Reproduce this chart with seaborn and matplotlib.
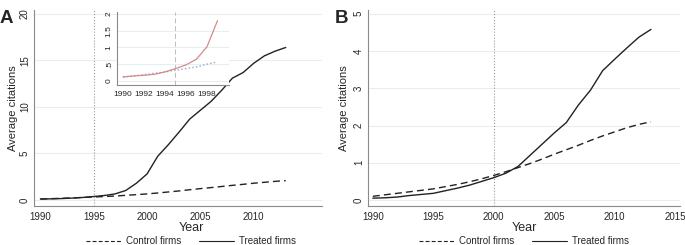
import numpy as np
import pandas as pd
import matplotlib
matplotlib.use('Agg')
import matplotlib.pyplot as plt
import seaborn as sns

years = list(range(1990, 2014))

treatedA = [0.10, 0.12, 0.15, 0.20, 0.27, 0.37, 0.48, 0.65, 1.02, 1.80, 2.80, 4.70,
            5.95, 7.30, 8.70, 9.65, 10.60, 11.80, 13.10, 13.70, 14.70, 15.50, 16.00, 16.40]
controlA = [0.10, 0.14, 0.18, 0.22, 0.27, 0.32, 0.37, 0.42, 0.50, 0.57, 0.65, 0.75,
            0.86, 0.97, 1.10, 1.22, 1.33, 1.45, 1.57, 1.68, 1.80, 1.90, 2.00, 2.08]

treatedB = [0.05, 0.06, 0.08, 0.12, 0.15, 0.18, 0.25, 0.32, 0.40, 0.50, 0.60, 0.72,
            0.90, 1.20, 1.50, 1.80, 2.08, 2.55, 2.95, 3.47, 3.78, 4.08, 4.37, 4.58]
controlB = [0.10, 0.14, 0.18, 0.22, 0.26, 0.30, 0.36, 0.42, 0.49, 0.57, 0.66, 0.76,
            0.87, 0.98, 1.10, 1.23, 1.35, 1.47, 1.60, 1.72, 1.83, 1.94, 2.03, 2.10]

insetYears = list(range(1990, 2000))
insetTreated = [0.12, 0.15, 0.17, 0.20, 0.27, 0.37, 0.48, 0.65, 1.02, 1.80]
insetControl = [0.12, 0.15, 0.19, 0.23, 0.27, 0.32, 0.37, 0.42, 0.50, 0.57]

sns.set_style('white')
plt.rcParams['font.family'] = ['Liberation Sans', 'DejaVu Sans']

lineCol = '#222222'
axisCol = '#8a8a8a'
gridCol = '#e6eef0'


def styleAxis(ax, yticks, xticks, fs=7, ylabels=None):
    for s in ['top', 'right']:
        ax.spines[s].set_visible(False)
    for s in ['left', 'bottom']:
        ax.spines[s].set_color(axisCol)
        ax.spines[s].set_linewidth(0.8)
    ax.set_yticks(yticks)
    if ylabels is not None:
        ax.set_yticklabels(ylabels)
    ax.set_xticks(xticks)
    ax.tick_params(axis='both', length=2.5, width=0.6, color=axisCol, labelsize=fs, pad=1.5)
    ax.tick_params(axis='y', pad=0.5)
    for lab in ax.get_yticklabels():
        lab.set_rotation(90)
        lab.set_va('center')
    ax.yaxis.grid(True, color=gridCol, linewidth=0.8)
    ax.set_axisbelow(True)


def mainPanel(ax, treated, control, vline, yticks, xticks, xlim, ylim, cx, ylabx):
    ax.axvline(vline, color='#999999', linestyle=':', linewidth=0.8)
    sns.lineplot(x=years, y=control, ax=ax, color=lineCol, linestyle=(0, (5, 3)), linewidth=1)
    sns.lineplot(x=years, y=treated, ax=ax, color=lineCol, linewidth=1)
    ax.set_xlim(*xlim)
    ax.set_ylim(*ylim)
    styleAxis(ax, yticks, xticks)
    ax.set_xlabel('Year', fontsize=9, labelpad=0)
    ax.xaxis.set_label_coords(cx, -(228 - 206) / 196, transform=ax.transAxes)
    ax.xaxis.label.set_va('center')
    ax.set_ylabel('Average citations', fontsize=8)
    ax.yaxis.set_label_coords(ylabx, 0.5, transform=ax.transAxes)
    ax.yaxis.label.set_va('center')
    handles = [plt.Line2D([], [], color=lineCol, linestyle=(0, (3.5, 2)), linewidth=0.8),
               plt.Line2D([], [], color=lineCol, linewidth=0.8)]
    ax.legend(handles, ['Control firms', 'Treated firms'], loc='center',
              bbox_to_anchor=(cx, -(241 - 206) / 196), ncol=2, frameon=False, fontsize=7,
              handlelength=3.6, columnspacing=1.8, handletextpad=0.5, borderpad=0,
              borderaxespad=0)


fig = plt.figure(figsize=(6.85, 2.45), dpi=100)

axA = fig.add_axes([34 / 685, 1 - 206 / 245, 288 / 685, 196 / 245])
mainPanel(axA, treatedA, controlA, 1995, [0, 5, 10, 15, 20],
          [1990, 1995, 2000, 2005, 2010], (1989.4, 2016.4), (-0.65, 20.43),
          (191 - 34) / 288, -(34 - 13) / 288)

axB = fig.add_axes([368 / 685, 1 - 206 / 245, 312 / 685, 196 / 245])
mainPanel(axB, treatedB, controlB, 2000, [0, 1, 2, 3, 4, 5],
          [1990, 1995, 2000, 2005, 2010, 2015], (1989.6, 2015.4), (-0.16, 5.1),
          0.5, -(368 - 344) / 312)

fig.text(0.0, 1 - 23 / 245, 'A', fontsize=13.5, fontweight='heavy', va='baseline')
fig.text(335 / 685, 1 - 23 / 245, 'B', fontsize=13.5, fontweight='heavy', va='baseline')

axIn = fig.add_axes([117 / 685, 1 - 85 / 245, 112 / 685, 73 / 245])
axIn.patch.set_facecolor('white')
axIn.axvline(1995, color='#bbbbbb', linestyle=(0, (5, 3)), linewidth=0.7)
sns.lineplot(x=insetYears, y=insetControl, ax=axIn, color='#8fa8c8', linestyle=':', linewidth=1)
sns.lineplot(x=insetYears, y=insetTreated, ax=axIn, color='#d68a8a', linewidth=0.9)
axIn.set_xlim(1989.43, 2000.1)
axIn.set_ylim(-0.12, 2.06)
styleAxis(axIn, [0, 0.5, 1, 1.5, 2], [1990, 1992, 1994, 1996, 1998], fs=6,
          ylabels=['0', '.5', '1', '1.5', '2'])
axIn.set_xlabel('')
axIn.set_ylabel('')

fig.savefig('out.png', dpi=100)
